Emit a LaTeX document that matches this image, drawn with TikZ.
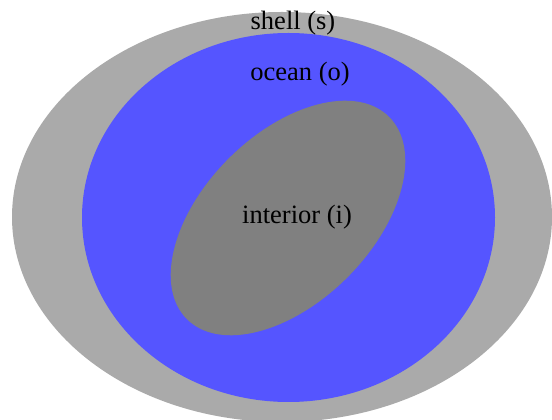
\documentclass[tikz,border=0pt]{standalone}
\usepackage{fontspec}
\setmainfont{Liberation Serif}
\definecolor{shellgray}{HTML}{AAAAAA}
\definecolor{oceanblue}{HTML}{5555FF}
\definecolor{coregray}{HTML}{808080}
\tikzset{lbl/.style={font=\fontsize{26.5}{28}\selectfont, text=black, inner sep=0pt}}
\begin{document}
\begin{tikzpicture}[x=1pt,y=1pt]
\useasboundingbox (0,0) rectangle (552,420);
\begin{scope}
\clip (0,0) rectangle (552,420);
\fill[shellgray] (282,203) ellipse [x radius=270, y radius=205];
\fill[oceanblue] (288.5,202.5) ellipse [x radius=206.5, y radius=184.5];
\fill[coregray, rotate around={45:(288,202)}] (288,202) ellipse [x radius=143, y radius=84];
\end{scope}
\node[lbl] (shell) at (293,397) {shell (s)};
\node[lbl] (ocean) at (300,346) {ocean (o)};
\node[lbl] (interior) at (297,203) {interior (i)};
\end{tikzpicture}
\end{document}
